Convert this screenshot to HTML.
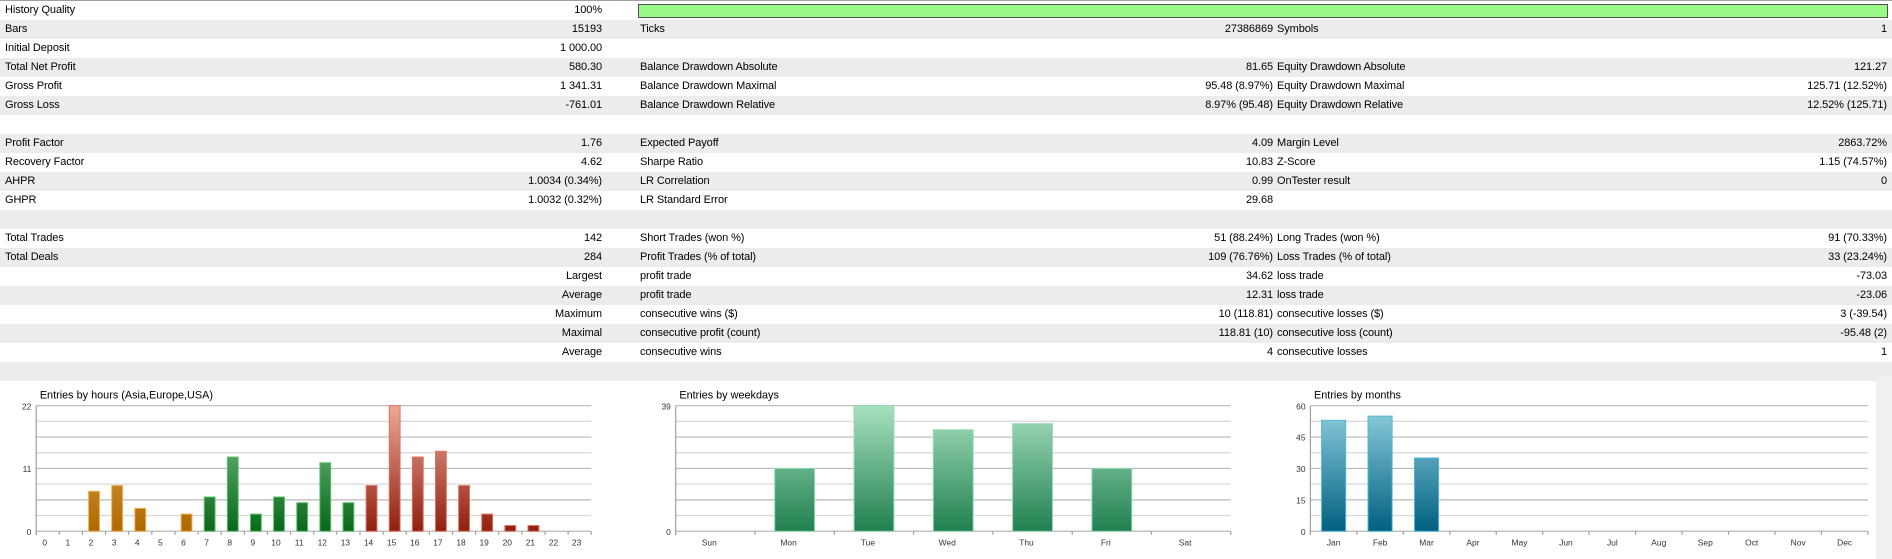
<!DOCTYPE html>
<html><head><meta charset="utf-8"><style>
html,body{margin:0;padding:0;background:#fff;}
body{width:1892px;height:559px;position:relative;overflow:hidden;font-family:"Liberation Sans",sans-serif;font-size:11px;color:#000;}
.r{position:absolute;left:0;width:1892px;height:19px;}
.g{background:#ececec;}
.t{position:absolute;top:2px;white-space:nowrap;line-height:15px;letter-spacing:-0.1px;}
.rt{text-align:right;}
svg{position:absolute;left:0;top:0;}
</style></head><body>
<div id="tbl"></div>
<div style="position:absolute;left:0;top:0;width:1892px;height:1px;background:#a0a0a0"></div>
<script>
var rows=[
["History Quality","100%","","","",""],
["Bars","15193","Ticks","27386869","Symbols","1"],
["Initial Deposit","1 000.00","","","",""],
["Total Net Profit","580.30","Balance Drawdown Absolute","81.65","Equity Drawdown Absolute","121.27"],
["Gross Profit","1 341.31","Balance Drawdown Maximal","95.48 (8.97%)","Equity Drawdown Maximal","125.71 (12.52%)"],
["Gross Loss","-761.01","Balance Drawdown Relative","8.97% (95.48)","Equity Drawdown Relative","12.52% (125.71)"],
["","","","","",""],
["Profit Factor","1.76","Expected Payoff","4.09","Margin Level","2863.72%"],
["Recovery Factor","4.62","Sharpe Ratio","10.83","Z-Score","1.15 (74.57%)"],
["AHPR","1.0034 (0.34%)","LR Correlation","0.99","OnTester result","0"],
["GHPR","1.0032 (0.32%)","LR Standard Error","29.68","",""],
["","","","","",""],
["Total Trades","142","Short Trades (won %)","51 (88.24%)","Long Trades (won %)","91 (70.33%)"],
["Total Deals","284","Profit Trades (% of total)","109 (76.76%)","Loss Trades (% of total)","33 (23.24%)"],
["","Largest","profit trade","34.62","loss trade","-73.03"],
["","Average","profit trade","12.31","loss trade","-23.06"],
["","Maximum","consecutive wins ($)","10 (118.81)","consecutive losses ($)","3 (-39.54)"],
["","Maximal","consecutive profit (count)","118.81 (10)","consecutive loss (count)","-95.48 (2)"],
["","Average","consecutive wins","4","consecutive losses","1"],
["","","","","",""]
];
var hs="";
for(var i=0;i<rows.length;i++){var r=rows[i];var ty=1+i*19;
hs+='<div class="r'+(i%2?' g':'')+'" style="top:'+ty+'px">';
hs+='<div class="t" style="left:5px">'+r[0]+'</div>';
hs+='<div class="t rt" style="right:'+(1892-602)+'px">'+r[1]+'</div>';
hs+='<div class="t" style="left:640px">'+r[2]+'</div>';
hs+='<div class="t rt" style="right:'+(1892-1273)+'px">'+r[3]+'</div>';
hs+='<div class="t" style="left:1277px">'+r[4]+'</div>';
hs+='<div class="t rt" style="right:5px">'+r[5]+'</div>';
if(i==0)hs+='<div style="position:absolute;left:638px;top:3px;width:1248px;height:12px;background:#98f888;border:1px solid #505050"></div>';
hs+='</div>';}
document.getElementById('tbl').innerHTML=hs;
</script>
<svg id="ch" width="1892" height="559" viewBox="0 0 1568 463" preserveAspectRatio="none" font-family="Liberation Sans, sans-serif">
<defs>
<linearGradient id="go" gradientUnits="userSpaceOnUse" x1="0" y1="336" x2="0" y2="440"><stop offset="0" stop-color="#e8b060"/><stop offset="1" stop-color="#b06800"/></linearGradient>
<linearGradient id="gg" gradientUnits="userSpaceOnUse" x1="0" y1="336" x2="0" y2="440"><stop offset="0" stop-color="#80c890"/><stop offset="1" stop-color="#086818"/></linearGradient>
<linearGradient id="gr" gradientUnits="userSpaceOnUse" x1="0" y1="336" x2="0" y2="440"><stop offset="0" stop-color="#eca898"/><stop offset="1" stop-color="#902010"/></linearGradient>
<linearGradient id="gw" gradientUnits="userSpaceOnUse" x1="0" y1="336" x2="0" y2="440"><stop offset="0" stop-color="#a8e0c0"/><stop offset="1" stop-color="#208050"/></linearGradient>
<linearGradient id="gb" gradientUnits="userSpaceOnUse" x1="0" y1="336" x2="0" y2="440"><stop offset="0" stop-color="#90d0e0"/><stop offset="1" stop-color="#006080"/></linearGradient>
</defs>
<rect x="1555" y="312" width="13" height="151" fill="#f0f0f0"/>
<g id="charts"></g>
</svg>
<script>
var g="";
function chart(x0,x1,title,ylabels,cats,cw_off,bars,fill,stroke,bw,scale){
 g+='<text x="'+(x0+3)+'" y="330" font-size="9">'+title+'</text>';
 for(var k=0;k<=8;k++){var y=336+k*13;g+='<line x1="'+x0+'" x2="'+x1+'" y1="'+y+'" y2="'+y+'" stroke="'+(k%2?'#d8d8d8':'#b8b8b8')+'" stroke-width="1"/>';}
 g+='<line x1="'+x0+'" x2="'+x0+'" y1="336" y2="443" stroke="#a0a0a0"/>';
 for(var j=0;j<ylabels.length;j++){g+='<text x="'+(x0-4)+'" y="'+(ylabels[j][1]+3)+'" font-size="7" text-anchor="end" fill="#333">'+ylabels[j][0]+'</text>';}
 var n=cats.length,cw=(x1-x0)/n;
 for(var i=0;i<=n;i++){var x=x0+cw*i;g+='<line x1="'+x+'" x2="'+x+'" y1="440" y2="443" stroke="#a0a0a0"/>';}
 for(var i=0;i<n;i++){var cx=x0+cw*(i+0.5);g+='<text x="'+(cx+cw_off)+'" y="452" font-size="7" text-anchor="middle" fill="#333">'+cats[i]+'</text>';
  var v=bars[i];if(v>0){var hh=v*scale;var f=typeof fill=="function"?fill(i):fill;var s=typeof stroke=="function"?stroke(i):stroke;
  g+='<rect x="'+(cx-bw/2)+'" y="'+(440-hh)+'" width="'+bw+'" height="'+hh+'" fill="url(#'+f+')" stroke="'+s+'" stroke-width="0.8"/>';}}
}
var hrs=[0,0,7,8,4,0,3,6,13,3,6,5,12,5,8,22,13,14,8,3,1,1,0,0],hc=[];for(var i=0;i<24;i++)hc.push(i);
chart(30,490,"Entries by hours (Asia,Europe,USA)",[["22",336],["11",388],["0",440]],hc,-2.5,hrs,
 function(i){return i<7?'go':i<14?'gg':'gr'},function(i){return i<7?'#f0b050':i<14?'#60c070':'#e07060'},9,104/22);
chart(560,1020,"Entries by weekdays",[["39",336],["0",440]],["Sun","Mon","Tue","Wed","Thu","Fri","Sat"],-5,[0,19.5,39,31.5,33.4,19.5,0],'gw','#90d8b0',33,104/39);
chart(1086,1548,"Entries by months",[["60",336],["45",362],["30",388],["15",414],["0",440]],["Jan","Feb","Mar","Apr","May","Jun","Jul","Aug","Sep","Oct","Nov","Dec"],0,[53,55,35,0,0,0,0,0,0,0,0,0],'gb','#50b8d8',20,104/60);
document.getElementById('charts').innerHTML=g;
</script>
</body></html>
